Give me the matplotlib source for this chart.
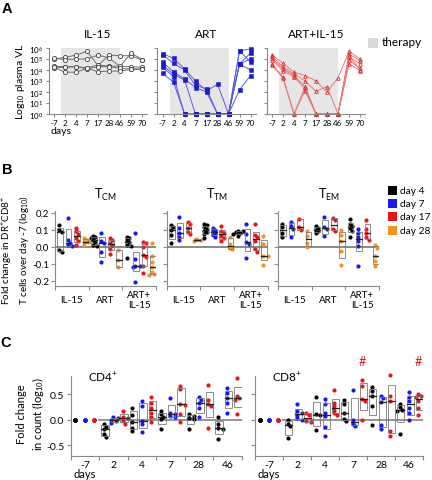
import numpy as np
import matplotlib
matplotlib.use('Agg')
import matplotlib.pyplot as plt
from matplotlib.patches import Rectangle

plt.rcParams['font.family'] = ['Lato', 'DejaVu Sans']
plt.rcParams['mathtext.fontset'] = 'custom'
plt.rcParams['mathtext.rm'] = 'Lato'
plt.rcParams['mathtext.it'] = 'Lato:italic'
plt.rcParams['mathtext.bf'] = 'Lato:bold'

# ---------------- DATA ----------------
# Panel A: log10 plasma viral load per animal
days_A = ['-7', '2', '4', '7', '17', '28', '46', '59', '70']
vl_il15 = [
    [5.0, 5.15, 5.35, 5.7, 4.4, 5.35, 5.3, 5.3, 4.9],
    [5.05, 4.95, 5.0, 5.0, 5.35, 5.1, 4.3, 5.55, 4.95],
    [4.35, 4.3, 4.3, 4.2, 4.45, 4.35, 4.35, 4.3, 4.25],
    [4.2, 4.25, 4.3, 4.1, 4.3, 4.3, 4.15, 4.1, 4.1],
    [4.25, 3.8, 3.8, 4.15, 3.85, 3.9, 3.9, 4.05, 4.05]]
vl_art = [
    [5.5, 5.05, 4.1, 3.0, 2.1, 2.7, 0, 5.75, 5.9],
    [5.4, 4.6, 4.0, 2.6, 2.3, 0, 0, 5.75, 4.7],
    [4.75, 3.8, 3.2, 2.4, 2.0, 0, 0, 4.55, 5.55],
    [4.45, 3.6, 3.1, 0, 0, 0, 0, 4.55, 4.0],
    [4.25, 3.4, 0, 0, 0, 0, 0, 2.2, 3.5],
    [3.7, 2.9, 0, 0, 0, 0, 0, 4.55, 5.0]]
vl_artil15 = [
    [5.4, 4.6, 3.8, 3.5, 3.0, 2.0, 3.3, 5.7, 5.0],
    [5.25, 4.25, 3.65, 3.0, 2.05, 2.5, 0, 5.45, 4.85],
    [5.1, 4.1, 3.5, 2.5, 0, 0, 0, 5.2, 4.55],
    [4.9, 3.95, 3.35, 2.3, 0, 0, 0, 4.9, 4.15],
    [4.55, 3.35, 0, 2.1, 0, 0, 0, 4.55, 3.95],
    [4.45, 3.25, 0, 2.5, 0, 0, 0, 5.3, 4.0]]

# Panel B: fold change (log10) per group, lists for day 4, 7, 17, 28
groups_B = ['IL-15', 'ART', 'ART+\nIL-15']
day_labels = ['day 4', 'day 7', 'day 17', 'day 28']
tcm_il15 = [[0.125, 0.1, 0.085, -0.02, -0.03], [0.17, 0.04, 0.025, 0.01, 0.005],
            [0.11, 0.09, 0.075, 0.05, 0.035, 0.01], [0.05, 0.04, 0.03, 0.03, 0.01]]
tcm_art = [[0.065, 0.055, 0.05, 0.04, 0.03, 0.01, 0.005], [0.08, 0.035, 0.02, -0.03, -0.09],
           [0.05, 0.04, 0.025, 0.01, -0.01, -0.045], [-0.02, -0.08, -0.12]]
tcm_artil15 = [[0.06, 0.05, 0.04, 0.03, 0.01, 0.005, -0.065], [0.08, -0.07, -0.11, -0.115, -0.12, -0.205],
               [0.03, 0.02, 0.0, -0.05, -0.06, -0.115, -0.155], [0.025, -0.055, -0.09, -0.12, -0.145, -0.16, -0.165]]
ttm_il15 = [[0.125, 0.115, 0.1, 0.07, 0.025], [0.175, 0.11, 0.08, 0.06, 0.04],
            [0.145, 0.135, 0.11, 0.085, 0.075], [0.045, 0.04, 0.035]]
ttm_art = [[0.135, 0.125, 0.115, 0.105, 0.095, 0.085, 0.075, 0.05], [0.11, 0.1, 0.09, 0.08, 0.07, 0.06],
           [0.12, 0.095, 0.08, 0.065, 0.05, 0.035], [0.06, 0.015, -0.005, -0.015]]
ttm_artil15 = [[0.095, 0.09, 0.085, 0.08, 0.075, 0.065], [0.135, 0.075, 0.03, 0.015, -0.065],
               [0.135, 0.07, 0.055, 0.035, -0.015, -0.03], [0.065, 0.015, -0.055, -0.055, -0.105]]
tem_il15 = [[0.135, 0.115, 0.08, 0.055], [0.145, 0.12, 0.105, 0.06],
            [0.165, 0.115, 0.1], [0.095, 0.065, 0.025, 0.0]]
tem_art = [[0.12, 0.11, 0.1, 0.09, 0.08], [0.175, 0.115, 0.105, 0.065],
           [0.17, 0.155, 0.105, 0.095], [0.1, 0.07, 0.035, -0.025, -0.105]]
tem_artil15 = [[0.165, 0.135, 0.12, 0.11, 0.095, 0.06], [0.105, 0.08, 0.06, 0.035, 0.005, -0.115],
               [0.16, 0.105, 0.08, 0.055, 0.04], [0.01, -0.005, -0.055, -0.085, -0.115]]

# Panel C: fold change in count (log10); per day: [black, blue, red]
days_C = ['-7', '2', '4', '7', '28', '46']
cd4_m7 = [[0, 0, 0, 0, 0], [0, 0, 0, 0, 0], [0, 0, 0, 0, 0, 0]]
cd4_d2 = [[-0.08, -0.13, -0.18, -0.28, -0.33], [0.05, 0.03, 0.0, -0.03, -0.06], [0.17, 0.06, 0.03, -0.02, -0.07]]
cd4_d4 = [[0.24, 0.1, -0.05, -0.15, -0.21], [0.38, 0.28, -0.02, -0.08, -0.24], [0.45, 0.34, 0.24, 0.14, 0.06, -0.05]]
cd4_d7 = [[0.17, 0.11, 0.06, 0.01, -0.18], [0.43, 0.14, 0.11, 0.07, 0.05], [0.67, 0.6, 0.32, 0.3, 0.11, -0.04]]
cd4_d28 = [[0.11, 0.08, 0.04, 0.01, -0.17], [0.45, 0.4, 0.34, 0.24, 0.05], [0.69, 0.39, 0.32, 0.28, -0.15]]
cd4_d46 = [[0.05, -0.08, -0.15, -0.18, -0.37], [0.63, 0.52, 0.42, 0.34, 0.14], [0.83, 0.46, 0.42, 0.4, 0.11]]
cd8_m7 = [[0, 0, 0, 0, 0], [0, 0, 0, 0, 0], [0, 0, 0, 0, 0, 0]]
cd8_d2 = [[0.0, -0.07, -0.12, -0.36], [0.32, 0.17, 0.14, 0.1, 0.03, 0.0], [0.14, 0.1, -0.02, -0.05]]
cd8_d4 = [[0.44, 0.12, 0.09, -0.19], [0.41, 0.31, 0.14, 0.07, -0.14, -0.31], [0.59, 0.34, 0.27, 0.2, 0.14, 0.09]]
cd8_d7 = [[0.39, 0.31, 0.14, 0.02, -0.03], [0.58, 0.0, -0.07, -0.12], [0.78, 0.66, 0.41, 0.37, 0.0]]
cd8_d28 = [[0.65, 0.56, 0.46, 0.27, -0.09], [0.46, 0.42, 0.36, -0.1, -0.17], [0.88, 0.47, 0.37, -0.22, -0.31]]
cd8_d46 = [[0.32, 0.25, 0.2, 0.17, -0.27], [0.54, 0.44, 0.37, 0.24, 0.14, 0.0], [0.5, 0.46, 0.44, 0.37, 0.24, 0.09]]
sig_cd8 = [(3, 2), (5, 2)]   # (day group, column) marked with '#'

# ---------------- STYLE / LAYOUT ----------------
W, H = 432, 481
fig = plt.figure(figsize=(W / 100, H / 100), dpi=100)
SPINE = '#8a8a8a'
BLACK, BLUE, RED, ORANGE = '#000000', '#1a1ae6', '#e8141c', '#f7941d'
colors_B = [BLACK, BLUE, RED, ORANGE]
colors_C = [BLACK, BLUE, RED]


def add_ax(x0, y0, x1, y1):
    return fig.add_axes([x0 / W, 1 - y1 / H, (x1 - x0) / W, (y1 - y0) / H])


def ftext(x, y, s, **kw):
    return fig.text(x / W, 1 - y / H, s, **kw)


def style_spines(ax):
    for s in ['top', 'right']:
        ax.spines[s].set_visible(False)
    for s in ['left', 'bottom']:
        ax.spines[s].set_color(SPINE)
        ax.spines[s].set_linewidth(0.8)
    ax.tick_params(colors=SPINE, labelcolor='black', width=0.8)


def swarm(vals, xc, ppx, ppy, d=2.8, step=2.3):
    placed, xs = [], []
    if np.ptp(vals) == 0:
        return [xc] * len(vals)
    for v in vals:
        off = 0.0
        for k in [0, 1, -1, 2, -2, 3, -3]:
            off = k * step
            if all((off - po) ** 2 + ((v - pv) * ppy) ** 2 >= d ** 2 for po, pv in placed):
                break
        placed.append((off, v))
        xs.append(xc + off / ppx)
    return xs


def quart(vals):
    v = np.asarray(vals, float)
    return (np.quantile(v, 0.25, method='weibull'), np.median(v),
            np.quantile(v, 0.75, method='weibull'))


def draw_col(ax, vals, xc, color, ppx, ppy, bw, ms=3.0, box=True):
    xs = swarm(vals, xc, ppx, ppy)
    ax.plot(xs, vals, 'o', color=color, ms=ms, mew=0, zorder=3, clip_on=False)
    if box and np.ptp(vals) > 0:
        q1, med, q3 = quart(vals)
        bx = xc + 1.0 / ppx
        ax.add_patch(Rectangle((bx - bw / 2, q1), bw, q3 - q1, fill=False,
                               ec='#7a7a7a', lw=0.6, zorder=4))
        ax.plot([bx - bw / 2, bx + bw / 2], [med, med], color='#222222', lw=0.9, zorder=5)


# ---------------- PANEL A ----------------
ftext(7, 9, 'A', fontsize=10.5, fontweight='bold', family='Liberation Sans', ha='center', va='center')
A_specs = [('IL-15', vl_il15, 48.5, dict(color='#6e6e6e', marker='o', mfc='white', mec='#404040', ms=3.0, mew=0.6)),
           ('ART', vl_art, 157, dict(color='#5a5ae6', marker='s', mfc='#1c1cc8', mec='#1c1cc8', ms=2.4, mew=0.4)),
           ('ART+IL-15', vl_artil15, 266.5, dict(color='#e87878', marker='^', mfc='none', mec='#d83030', ms=2.6, mew=0.6))]
for i, (title, data, x0, st) in enumerate(A_specs):
    ax = add_ax(x0, 49, x0 + 98.5, 115)
    style_spines(ax)
    ax.set_yscale('log')
    ax.set_ylim(1, 1e6)
    ax.set_xlim(-0.5, 8.45)
    ax.axvspan(0.65, 6, color='#e6e6e6', lw=0, zorder=0)
    xs = np.arange(len(days_A))
    for row in data:
        ax.plot(xs, 10 ** np.asarray(row), lw=0.7, zorder=2, clip_on=False, **st)
    ax.set_xticks(xs)
    ax.set_xticklabels(days_A, fontsize=5.8)
    ax.set_yticks([10 ** k for k in range(7)])
    ax.minorticks_off()
    ax.set_yticks([], minor=True)
    ax.tick_params(axis='both', length=2, pad=1.5)
    if i == 0:
        ax.set_yticklabels(['10$^{%d}$' % k for k in range(7)], fontsize=5.8)
    else:
        ax.set_yticklabels([])
    ax.set_title(title, fontsize=8.5, pad=8)
ftext(61, 132, 'days', fontsize=7.5, ha='center', va='center')
ftext(21, 82, 'Log$_{10}$ plasma VL', fontsize=7.5, rotation=90, ha='center', va='center')
fig.patches.append(Rectangle((368 / W, 1 - 49 / H), 10 / W, 10 / H, transform=fig.transFigure,
                             color='#d9d9d9', lw=0))
ftext(382, 43, 'therapy', fontsize=8.5, ha='left', va='center')

# ---------------- PANEL B ----------------
ftext(7, 170, 'B', fontsize=10.5, fontweight='bold', family='Liberation Sans', ha='center', va='center')
B_specs = [('T$_{\\rm CM}$', [tcm_il15, tcm_art, tcm_artil15], 55),
           ('T$_{\\rm TM}$', [ttm_il15, ttm_art, ttm_artil15], 166.5),
           ('T$_{\\rm EM}$', [tem_il15, tem_art, tem_artil15], 278)]
BY0, BY1 = 212, 287
YL_B = (-0.23, 0.21)
for i, (title, groups, x0) in enumerate(B_specs):
    ax = add_ax(x0, BY0, x0 + 101, BY1)
    style_spines(ax)
    ax.set_xlim(0, 3)
    ax.set_ylim(*YL_B)
    ppx = 101 / 3
    ppy = (BY1 - BY0) / (YL_B[1] - YL_B[0])
    ax.axhline(0, color='#808080', lw=1.3, zorder=1)
    for g, grp in enumerate(groups):
        for c, vals in enumerate(grp):
            xc = g + (c + 0.5) / 4
            draw_col(ax, vals, xc, colors_B[c], ppx, ppy, bw=0.17)
    ax.set_xticks([0, 1, 2, 3])
    ax.set_xticklabels([])
    ax.set_yticks([-0.2, -0.1, 0.0, 0.1, 0.2])
    ax.tick_params(axis='both', length=3, pad=1.2)
    if i == 0:
        ax.set_yticklabels(['-0.2', '-0.1', '0.0', '0.1', '0.2'], fontsize=7.0)
    else:
        ax.set_yticklabels([])
    for g, lab in enumerate(groups_B):
        ax.text(g + 0.5, -(300.5 - BY1) / (BY1 - BY0), lab, transform=ax.get_xaxis_transform(),
                ha='center', va='center', fontsize=7, linespacing=1.25)
    ftext(x0 + 50.5, 195, title, fontsize=9, ha='center', va='center')
ftext(15.5, 250, 'Fold change in DR$^{+}$CD8$^{+}$\nT cells over day -7 (log$_{10}$)',
      fontsize=7.1, rotation=90, ha='center', va='center', linespacing=1.15)
for k, (lab, col) in enumerate(zip(day_labels, colors_B)):
    yc = 191.7 + 13.1 * k
    fig.patches.append(Rectangle((388 / W, 1 - (yc + 4.5) / H), 9 / W, 9 / H,
                                 transform=fig.transFigure, color=col, lw=0))
    ftext(400, yc, lab, fontsize=7.3, ha='left', va='center')

# ---------------- PANEL C ----------------
ftext(6, 343, 'C', fontsize=10.5, fontweight='bold', family='Liberation Sans', ha='center', va='center')
CY0, CY1 = 377, 456.7
YL_C = (-0.70, 0.86)
C_specs = [('CD4$^{+}$', [cd4_m7, cd4_d2, cd4_d4, cd4_d7, cd4_d28, cd4_d46], 70.7, 241.7),
           ('CD8$^{+}$', [cd8_m7, cd8_d2, cd8_d4, cd8_d7, cd8_d28, cd8_d46], 255, 423)]
for i, (title, groups, x0, x1) in enumerate(C_specs):
    ax = add_ax(x0, CY0, x1, CY1)
    style_spines(ax)
    ax.set_xlim(0, 6)
    ax.set_ylim(*YL_C)
    ppx = (x1 - x0) / 6
    ppy = (CY1 - CY0) / (YL_C[1] - YL_C[0])
    ax.plot([1, 6], [0, 0], color='#8c8c8c', lw=1.3, zorder=1)
    for g, grp in enumerate(groups):
        for c, vals in enumerate(grp):
            xc = g + (c + 0.5) / 3
            draw_col(ax, vals, xc, colors_C[c], ppx, ppy, bw=0.25)
    ax.set_xticks(range(7))
    ax.set_xticklabels([])
    ax.set_xticks(np.arange(6) + 0.5, minor=True)
    ax.set_xticklabels(days_C, minor=True, fontsize=7.5)
    ax.tick_params(axis='x', which='minor', length=0, pad=3)
    ax.set_yticks([-0.5, 0.0, 0.5])
    ax.tick_params(axis='both', which='major', length=3, pad=1.5)
    if i == 0:
        ax.set_yticklabels(['-0.5', '0.0', '0.5'], fontsize=7.5)
    else:
        ax.set_yticklabels([])
        for g, c in sig_cd8:
            ax.text(g + (c + 0.5) / 3, 1 + (CY0 - 362) / (CY1 - CY0), '#', color=RED,
                    transform=ax.get_xaxis_transform(), ha='center', va='center', fontsize=9)
    ax.text(0.6, 1.0, title, transform=ax.get_xaxis_transform(), ha='left', va='center', fontsize=8.5)
    ftext(x0 + ppx * 0.5, 475, 'days', fontsize=8, ha='center', va='center')
ftext(31, 414, 'Fold change\nin count (log$_{10}$)', fontsize=8, rotation=90,
      ha='center', va='center', linespacing=1.3)

fig.savefig('out.png', dpi=100)
